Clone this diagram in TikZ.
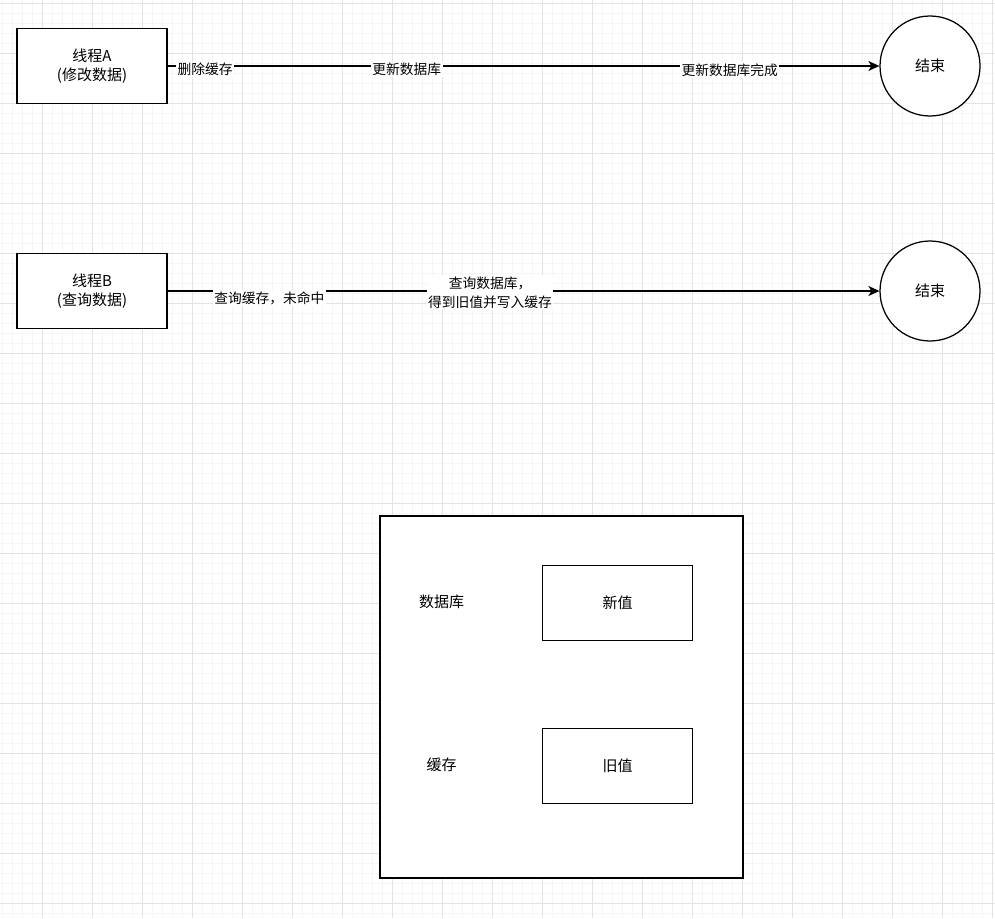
\documentclass[tikz,border=0pt]{standalone}
\usepackage{fontspec}
\setmainfont{Noto Sans CJK SC}
\usetikzlibrary{arrows.meta}
\definecolor{gridminor}{HTML}{F5F5F5}
\definecolor{gridmajor}{HTML}{E3E3E3}
\begin{document}
\begin{tikzpicture}[x=1pt,y=-1pt,
  box/.style={draw=black, line width=1.25pt, fill=white, minimum width=150pt, minimum height=75pt, inner sep=0pt, align=center, font=\fontsize{15}{18.75}\selectfont},
  endc/.style={circle, draw=black, line width=1.25pt, fill=white, minimum size=100pt, inner sep=0pt, font=\fontsize{15}{18.75}\selectfont},
  plain/.style={inner sep=0pt, font=\fontsize{15}{18.75}\selectfont},
  elabel/.style={fill=white, inner sep=1.5pt, align=center, font=\fontsize{13.75}{19}\selectfont},
  flow/.style={draw=black, line width=1.25pt, -{Stealth[length=11pt, width=10pt, inset=3pt]}},
  line/.style={draw=black, line width=1.25pt}
]
\useasboundingbox (0,0) rectangle (995,918);
\fill[white] (0,0) rectangle (995,918);
% grid
\foreach \x in {2,12,...,992} \draw[gridminor, line width=0.9pt] (\x,0) -- (\x,918);
\foreach \y in {3,13,...,913} \draw[gridminor, line width=0.9pt] (0,\y) -- (995,\y);
\foreach \x in {42,92,...,992} \draw[gridmajor, line width=1pt] (\x,0) -- (\x,918);
\foreach \y in {3,53,...,903} \draw[gridmajor, line width=1pt] (0,\y) -- (995,\y);

% thread A
\node[box] (A) at (92,66) {线程A\\(修改数据)};
\node[endc] (endA) at (930,66) {结束};
\draw[flow] (A.east) -- (endA.west)
  node[elabel, pos=0.0526, yshift=-3.5pt] {删除缓存}
  node[elabel, pos=0.336, yshift=-3.5pt] {更新数据库}
  node[elabel, pos=0.7896, yshift=-4pt] {更新数据库完成};

% thread B
\node[box] (B) at (92,291) {线程B\\(查询数据)};
\node[endc] (endB) at (930,291) {结束};
\draw[flow] (B.east) -- (endB.west)
  node[elabel, pos=0.143, yshift=-7pt] {查询缓存，未命中}
  node[elabel, pos=0.453, yshift=-1.5pt] {查询数据库，\\得到旧值并写入缓存};

% bottom container
\node[draw=black, line width=1.25pt, fill=white, minimum width=363pt, minimum height=362pt, inner sep=0pt] (cont) at (561.5,697) {};
\node[plain] (db) at (441.7,602) {数据库};
\node[plain] (cache) at (441.7,765) {缓存};
\node[box] (newv) at (617.5,603) {新值};
\node[box] (oldv) at (617.5,766) {旧值};
\end{tikzpicture}
\end{document}
